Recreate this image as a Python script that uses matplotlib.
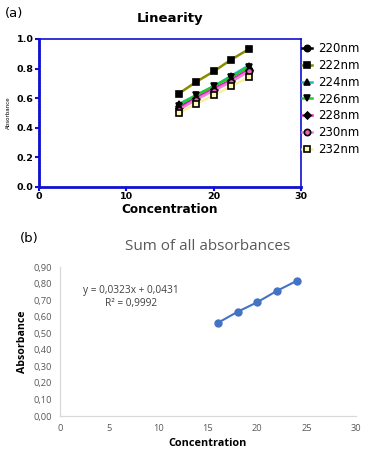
import matplotlib
matplotlib.use("Agg")
import matplotlib.pyplot as plt
from matplotlib.ticker import MultipleLocator, FormatStrFormatter

# data
conc = [16, 18, 20, 22, 24]
a220 = [0.54, 0.60, 0.66, 0.72, 0.79]
a222 = [0.63, 0.71, 0.78, 0.86, 0.93]
a224 = [0.56, 0.62, 0.68, 0.75, 0.82]
a226 = [0.55, 0.62, 0.68, 0.74, 0.81]
a228 = [0.53, 0.60, 0.66, 0.72, 0.79]
a230 = [0.52, 0.59, 0.65, 0.71, 0.78]
a232 = [0.50, 0.56, 0.62, 0.68, 0.74]
sum_abs = [0.563, 0.630, 0.688, 0.757, 0.817]

wl_names = ["220nm", "222nm", "224nm", "226nm", "228nm", "230nm", "232nm"]
wl_data = [a220, a222, a224, a226, a228, a230, a232]
line_cols = ["#000000", "#8a8a00", "#1fb8c8", "#22cc22", "#e020d0", "#f080d0", "#f8f0a0"]
marks = ["o", "s", "^", "v", "D", "o", "s"]
faces = ["black", "black", "black", "black", "black", "#f060c0", "#fff8b0"]

fig = plt.figure(figsize=(3.69, 4.58), dpi=100)
blue = "#1010d0"

# ---- panel (a)
ax1 = fig.add_axes([0.1057, 0.592, 0.710, 0.323])
for name, vals, lc, m, fc in zip(wl_names, wl_data, line_cols, marks, faces):
    ax1.plot(conc, vals, color=lc, lw=1.8, marker=m, markersize=4.5 if m != "D" else 3.5,
             markerfacecolor=fc, markeredgecolor="black", markeredgewidth=1.2, label=name)
ax1.set_xlim(0, 30)
ax1.set_ylim(0, 1.0)
ax1.xaxis.set_major_locator(MultipleLocator(10))
ax1.yaxis.set_major_locator(MultipleLocator(0.2))
ax1.yaxis.set_minor_locator(MultipleLocator(0.02))
ax1.yaxis.set_major_formatter(FormatStrFormatter("%.1f"))
for s in ["left", "bottom"]:
    ax1.spines[s].set_color(blue)
    ax1.spines[s].set_linewidth(2)
for s in ["top", "right"]:
    ax1.spines[s].set_color(blue)
    ax1.spines[s].set_linewidth(1.2)
ax1.tick_params(which="major", colors=blue, width=1.5, length=3, labelcolor="black",
                labelsize=6.8, pad=1)
ax1.tick_params(which="minor", colors=blue, width=1, length=1.5, direction="inout")
for t in ax1.get_xticklabels() + ax1.get_yticklabels():
    t.set_fontweight("bold")
ax1.set_xlabel("Concentration", fontsize=8.7, fontweight="bold", labelpad=1)
ax1.set_ylabel("Absorbance", fontsize=4, labelpad=4)
ax1.set_title("Linearity", fontsize=9.5, fontweight="bold", pad=12)
ax1.legend(loc="upper left", bbox_to_anchor=(0.985, 1.01), frameon=False, fontsize=8.5,
           handlelength=0.9, handletextpad=0.5, labelspacing=0.32, borderaxespad=0)
fig.text(0.014, 0.962, "(a)", fontsize=9.5)

# ---- panel (b)
ax2 = fig.add_axes([0.1626, 0.0917, 0.802, 0.325])
ax2.plot(conc, sum_abs, color="#4472c4", lw=1.5, marker="o", markersize=5)
ax2.set_xlim(0, 30)
ax2.set_ylim(0, 0.9)
ax2.xaxis.set_major_locator(MultipleLocator(5))
ax2.yaxis.set_major_locator(MultipleLocator(0.1))
ax2.yaxis.set_major_formatter(lambda v, p: ("%.2f" % v).replace(".", ","))
for s in ["top", "right"]:
    ax2.spines[s].set_visible(False)
for s in ["left", "bottom"]:
    ax2.spines[s].set_color("#d9d9d9")
    ax2.spines[s].set_linewidth(0.9)
ax2.tick_params(length=0, labelsize=6.7, labelcolor="#595959", pad=6)
for t in ax2.get_xticklabels() + ax2.get_yticklabels():
    t.set_fontfamily("Open Sans")
ax2.set_xlabel("Concentration", fontsize=7.8, fontweight="bold", family="Open Sans", labelpad=3)
ax2.set_ylabel("Absorbance", fontsize=7.6, fontweight="bold", family="Open Sans", labelpad=4)
ax2.set_title("Sum of all absorbances", fontsize=11, color="#595959", family="Open Sans", pad=12)
ax2.text(0.24, 0.80, "y = 0,0323x + 0,0431\nR² = 0,9992", transform=ax2.transAxes,
         ha="center", va="center", fontsize=7.3, color="#404040", family="Open Sans",
         linespacing=1.3)
fig.text(0.055, 0.472, "(b)", fontsize=9.5)

fig.savefig("out.png", dpi=100)
